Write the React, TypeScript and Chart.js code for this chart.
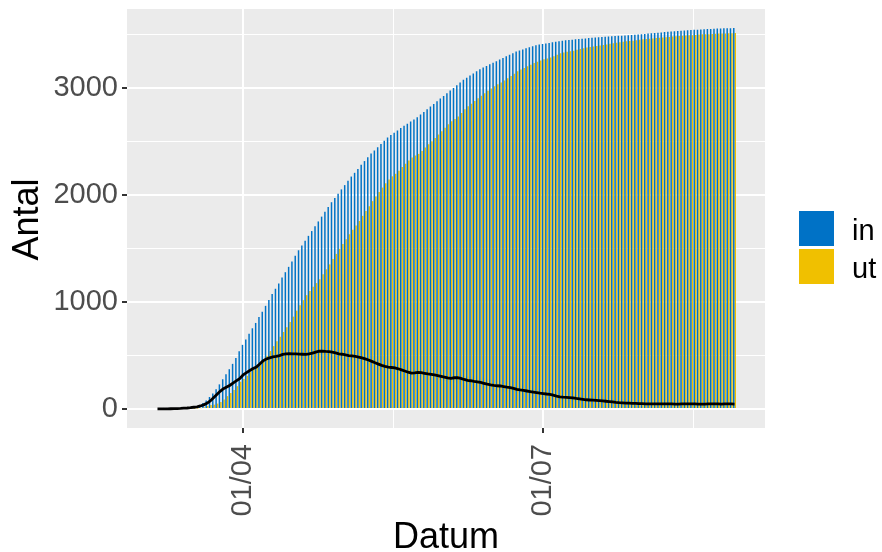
import React, { useEffect, useRef } from 'react';
import { Chart, registerables } from 'chart.js';

Chart.register(...registerables);

// First date of the series (6 March 2020), one value per day
const START_DATE = { y: 2020, m: 2, d: 6 };
const REF_DATE = { y: 2020, m: 3, d: 1 }; // 01/04, used as day zero of the axis
const majorTickDates = [
  { y: 2020, m: 3, d: 1 },
  { y: 2020, m: 6, d: 1 },
];
const majorTickLabels = ['01/04', '01/07'];
const seriesNames = ['in', 'ut'];
const yMajorTicks = [0, 1000, 2000, 3000];
const yMinorTicks = [500, 1500, 2500, 3500];

// cumulative "in"
const inVals = [
  0, 0, 1, 1, 2, 3, 4, 5, 7, 10,
  13, 18, 24, 34, 55, 80, 112, 145, 185, 230,
  278, 325, 372, 422, 478, 540, 600, 650, 705, 755,
  805, 860, 910, 965, 1020, 1075, 1125, 1175, 1230, 1280,
  1330, 1380, 1435, 1485, 1530, 1575, 1620, 1665, 1710, 1755,
  1800, 1845, 1890, 1935, 1975, 2015, 2055, 2095, 2135, 2175,
  2210, 2245, 2285, 2320, 2355, 2390, 2420, 2450, 2480, 2510,
  2540, 2565, 2585, 2605, 2630, 2650, 2670, 2690, 2710, 2730,
  2755, 2780, 2805, 2830, 2855, 2880, 2905, 2930, 2955, 2980,
  3005, 3030, 3055, 3080, 3100, 3120, 3140, 3160, 3180, 3195,
  3210, 3225, 3240, 3255, 3270, 3285, 3300, 3315, 3330, 3345,
  3355, 3365, 3375, 3385, 3395, 3403, 3410, 3416, 3421, 3426,
  3431, 3436, 3441, 3446, 3450, 3453, 3456, 3459, 3462, 3465,
  3468, 3471, 3474, 3477, 3480, 3482, 3484, 3486, 3488, 3490,
  3492, 3494, 3496, 3498, 3500, 3502, 3505, 3508, 3510, 3513,
  3516, 3519, 3521, 3524, 3527, 3530, 3532, 3535, 3537, 3540,
  3542, 3544, 3546, 3548, 3550, 3552, 3554, 3555, 3557, 3558,
  3560, 3561, 3562, 3563, 3564, 3565,
];

// cumulative "ut"
const utVals = [
  0, 0, 0, 0, 0, 0, 0, 0, 0, 1,
  1, 2, 4, 6, 17, 28, 37, 40, 50, 65,
  88, 120, 150, 177, 213, 255, 280, 310, 345, 377,
  413, 440, 460, 497, 542, 588, 633, 675, 720, 765,
  813, 864, 920, 971, 1018, 1065, 1105, 1143, 1178, 1215,
  1260, 1307, 1353, 1403, 1451, 1499, 1543, 1589, 1635, 1678,
  1718, 1759, 1807, 1852, 1897, 1945, 1988, 2030, 2072, 2112,
  2148, 2177, 2201, 2229, 2264, 2295, 2326, 2354, 2372, 2387,
  2415, 2446, 2477, 2506, 2537, 2568, 2600, 2632, 2665, 2693,
  2713, 2736, 2769, 2804, 2832, 2856, 2882, 2907, 2932, 2955,
  2978, 3000, 3020, 3038, 3055, 3075, 3096, 3116, 3138, 3161,
  3177, 3192, 3207, 3222, 3237, 3250, 3262, 3272, 3281, 3289,
  3301, 3316, 3328, 3336, 3342, 3347, 3353, 3361, 3368, 3375,
  3382, 3387, 3392, 3397, 3402, 3407, 3412, 3417, 3422, 3428,
  3433, 3437, 3441, 3444, 3447, 3450, 3455, 3459, 3462, 3465,
  3468, 3472, 3474, 3477, 3480, 3482, 3485, 3489, 3491, 3493,
  3495, 3497, 3498, 3501, 3504, 3506, 3508, 3508, 3510, 3511,
  3513, 3515, 3515, 3516, 3517, 3519,
];

// currently admitted (black line)
const netVals = [
  0, 0, 1, 1, 2, 3, 4, 5, 7, 9,
  12, 16, 20, 28, 38, 52, 75, 105, 135, 165,
  190, 205, 222, 245, 265, 285, 320, 340, 360, 378,
  392, 420, 450, 468, 478, 487, 492, 500, 510, 515,
  517, 516, 515, 514, 512, 510, 515, 522, 532, 540,
  540, 538, 537, 532, 524, 516, 512, 506, 500, 497,
  492, 486, 478, 468, 458, 445, 432, 420, 408, 398,
  392, 388, 384, 376, 366, 355, 344, 336, 338, 343,
  340, 334, 328, 324, 318, 312, 305, 298, 290, 287,
  292, 294, 286, 276, 268, 264, 258, 253, 248, 240,
  232, 225, 220, 217, 215, 210, 204, 199, 192, 184,
  178, 173, 168, 163, 158, 153, 148, 144, 140, 137,
  130, 120, 113, 110, 108, 106, 103, 98, 94, 90,
  86, 84, 82, 80, 78, 75, 72, 69, 66, 62,
  59, 57, 55, 54, 53, 52, 50, 49, 48, 48,
  48, 47, 47, 47, 47, 48, 47, 46, 46, 47,
  47, 47, 48, 47, 46, 46, 46, 47, 47, 47,
  47, 46, 47, 47, 47, 46,
];

const COLORS = { in: '#0072C6', ut: '#F0C000', line: '#000000' };
const FONT = '"Liberation Sans", Arial, Helvetica, sans-serif';

const DAY = 86400000;
const utc = (o: { y: number; m: number; d: number }) => Date.UTC(o.y, o.m, o.d);
const startOffset = (utc(START_DATE) - utc(REF_DATE)) / DAY;
const dayX = inVals.map((_, i) => startOffset + i);
const majorTickX = majorTickDates.map((o) => (utc(o) - utc(REF_DATE)) / DAY);
const minorTickX = majorTickX.map((v, i) =>
  i < majorTickX.length - 1 ? (v + majorTickX[i + 1]) / 2 : v + (v - majorTickX[i - 1]) / 2
);

export default function App() {
  const ref = useRef<HTMLCanvasElement | null>(null);

  useEffect(() => {
    if (!ref.current) return;
    const lo = dayX[0] - 0.45;
    const hi = dayX[dayX.length - 1] + 0.45;
    const span = hi - lo;
    const yTop = Math.max(...inVals, ...utVals);

    const panelPlugin = {
      id: 'panelBg',
      beforeDraw(chart: any) {
        const { ctx, chartArea: a } = chart;
        ctx.save();
        ctx.fillStyle = '#EBEBEB';
        ctx.fillRect(a.left, a.top, a.right - a.left, a.bottom - a.top);
        ctx.restore();
      },
      afterDraw(chart: any) {
        const { ctx, chartArea: a } = chart;
        ctx.save();
        ctx.fillStyle = '#000000';
        ctx.font = `36px ${FONT}`;
        ctx.textAlign = 'center';
        ctx.textBaseline = 'alphabetic';
        ctx.fillText('Datum', (a.left + a.right) / 2, 548);
        ctx.save();
        ctx.translate(38, (a.top + a.bottom) / 2 + 1);
        ctx.rotate(-Math.PI / 2);
        ctx.fillText('Antal', 0, 0);
        ctx.restore();
        // legend
        const keyX = 799;
        const keyTops = [211, 249];
        const keyColors = [COLORS.in, COLORS.ut];
        ctx.font = `29px ${FONT}`;
        ctx.textAlign = 'left';
        seriesNames.forEach((name, i) => {
          ctx.fillStyle = keyColors[i];
          ctx.fillRect(keyX, keyTops[i], 35, 35);
          ctx.fillStyle = '#000000';
          ctx.fillText(name, 852, keyTops[i] + 29);
        });
        ctx.restore();
      },
    };

    const chart = new Chart(ref.current, {
      type: 'bar',
      data: {
        datasets: [
          {
            type: 'line',
            label: 'netto',
            data: dayX.map((x, i) => ({ x, y: netVals[i] })),
            borderColor: COLORS.line,
            borderWidth: 2.8,
            pointRadius: 0,
            tension: 0,
            order: 0,
          } as any,
          {
            type: 'bar',
            label: seriesNames[0],
            data: dayX.map((x, i) => ({ x, y: inVals[i] })),
            backgroundColor: COLORS.in,
            borderWidth: 0,
            barPercentage: 1,
            categoryPercentage: 0.9,
            order: 1,
          },
          {
            type: 'bar',
            label: seriesNames[1],
            data: dayX.map((x, i) => ({ x, y: utVals[i] })),
            backgroundColor: COLORS.ut,
            borderWidth: 0,
            barPercentage: 1,
            categoryPercentage: 0.9,
            order: 1,
          },
        ],
      },
      options: {
        animation: false,
        responsive: false,
        devicePixelRatio: 1,
        layout: { padding: { left: 0, right: 117, top: 9, bottom: 0 } },
        plugins: { legend: { display: false }, tooltip: { enabled: false } },
        scales: {
          x: {
            type: 'linear',
            min: lo - 0.05 * span,
            max: hi + 0.05 * span,
            offset: false,
            border: { display: false },
            grid: {
              offset: false,
              color: '#FFFFFF',
              lineWidth: (c: any) => (majorTickX.includes(c.tick?.value) ? 2 : 1),
              tickColor: (c: any) => (majorTickX.includes(c.tick?.value) ? '#333333' : 'rgba(0,0,0,0)'),
              tickLength: 5,
              tickWidth: 2,
            },
            afterBuildTicks: (s: any) => {
              s.ticks = [...majorTickX, ...minorTickX]
                .sort((a, b) => a - b)
                .map((v) => ({ value: v }));
            },
            afterFit: (s: any) => {
              s.height = 124;
              s.paddingLeft = 0;
              s.paddingRight = 0;
              s.paddingTop = 0;
              s.paddingBottom = 0;
            },
            ticks: {
              autoSkip: false,
              minRotation: 90,
              maxRotation: 90,
              padding: 11,
              color: '#4D4D4D',
              font: { family: FONT, size: 29 },
              callback: (v: any) => {
                const idx = majorTickX.indexOf(Number(v));
                return idx >= 0 ? majorTickLabels[idx] : '';
              },
            },
          },
          y: {
            type: 'linear',
            min: -0.05 * yTop,
            max: yTop * 1.05,
            border: { display: false },
            grid: {
              color: '#FFFFFF',
              lineWidth: (c: any) => (yMajorTicks.includes(c.tick?.value) ? 2 : 1),
              tickColor: (c: any) => (yMajorTicks.includes(c.tick?.value) ? '#333333' : 'rgba(0,0,0,0)'),
              tickLength: 5,
              tickWidth: 2,
            },
            afterBuildTicks: (s: any) => {
              s.ticks = [...yMajorTicks, ...yMinorTicks]
                .sort((a, b) => a - b)
                .map((v) => ({ value: v }));
            },
            afterFit: (s: any) => {
              s.width = 127;
              s.paddingLeft = 0;
              s.paddingRight = 0;
              s.paddingTop = 0;
              s.paddingBottom = 0;
            },
            ticks: {
              padding: 4,
              color: '#4D4D4D',
              font: { family: FONT, size: 29 },
              callback: (v: any) => (yMajorTicks.includes(Number(v)) ? String(v) : ''),
            },
          },
        },
      },
      plugins: [panelPlugin],
    } as any);

    return () => chart.destroy();
  }, []);

  return (
    <div style={{ position: 'absolute', left: 0, top: 0, width: 882, height: 552, background: '#FFFFFF' }}>
      <canvas ref={ref} width={882} height={552} style={{ display: 'block', width: 882, height: 552 }} />
    </div>
  );
}
